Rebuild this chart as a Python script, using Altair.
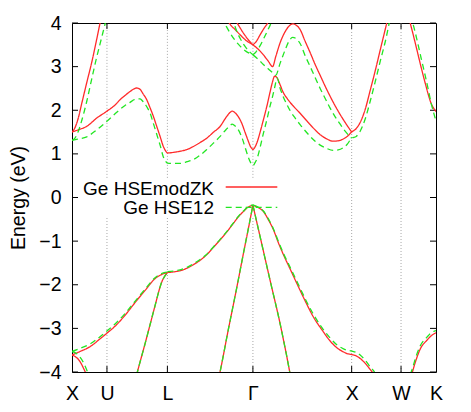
import altair as alt
import pandas as pd

# ---------------- data ----------------
SERIES = ["Ge HSEmodZK", "Ge HSE12"]
KPOINT_LABELS = ["X", "U", "L", "Γ", "X", "W", "K"]
KPOINT_POS = [0.0, 0.354, 0.966, 1.832, 2.832, 3.332, 3.686]
Y_TICKS = [-4, -3, -2, -1, 0, 1, 2, 3, 4]

# valence: top band X-U-L
vb_xul_k = [0, 0.081, 0.182, 0.284, 0.354, 0.436, 0.537, 0.638, 0.740, 0.841, 0.912, 0.966]
vb_xul_red = [-3.61, -3.53, -3.42, -3.24, -3.11, -2.95, -2.70, -2.41, -2.13, -1.86, -1.76, -1.72]
vb_xul_green = [-3.53, -3.46, -3.36, -3.19, -3.06, -2.90, -2.66, -2.38, -2.10, -1.84, -1.74, -1.71]

# valence: second band leaving X downward
vb_x2_k = [0, 0.041, 0.081, 0.122, 0.162]
vb_x2_red = [-3.61, -3.66, -3.76, -3.94, -4.14]
vb_x2_green = [-3.53, -3.57, -3.66, -3.81, -4.03]

# valence: steep band into L
vb_ul_k = [0.628, 0.662, 0.740, 0.790, 0.841, 0.892, 0.912, 0.932, 0.966]
vb_ul_red = [-4.3, -4.0, -3.35, -2.92, -2.48, -2.05, -1.92, -1.83, -1.72]
vb_ul_green = [-4.3, -4.0, -3.35, -2.92, -2.48, -2.05, -1.92, -1.83, -1.72]

# valence: top band L-Gamma
vb_lg_k = [0.966, 1.044, 1.094, 1.165, 1.229, 1.297, 1.365, 1.429, 1.500, 1.571, 1.635, 1.682, 1.736, 1.784, 1.832]
vb_lg_red = [-1.72, -1.70, -1.68, -1.62, -1.54, -1.44, -1.31, -1.15, -0.97, -0.78, -0.59, -0.45, -0.32, -0.22, -0.18]
vb_lg_green = [-1.70, -1.68, -1.66, -1.60, -1.52, -1.42, -1.30, -1.14, -0.96, -0.77, -0.58, -0.44, -0.31, -0.21, -0.17]

# valence: light hole, L side
vb_lh1_k = [1.480, 1.500, 1.581, 1.669, 1.743, 1.794, 1.832]
vb_lh1_red = [-4.2, -3.99, -3.05, -2.06, -1.20, -0.62, -0.18]
vb_lh1_green = [-4.2, -3.99, -3.05, -2.06, -1.20, -0.62, -0.17]

# valence: light hole, X side
vb_lh2_k = [1.832, 1.905, 2.006, 2.108, 2.204, 2.229]
vb_lh2_red = [-0.18, -0.90, -1.90, -2.90, -3.99, -4.3]
vb_lh2_green = [-0.17, -0.90, -1.90, -2.90, -3.99, -4.3]

# valence: heavy hole Gamma-X
vb_hh_k = [1.832, 1.885, 1.938, 1.986, 2.040, 2.087, 2.141, 2.209, 2.277, 2.361, 2.445, 2.533,
           2.614, 2.685, 2.749, 2.787, 2.832, 2.878, 2.918, 2.969, 3.019, 3.053, 3.080]
vb_hh_red = [-0.18, -0.23, -0.32, -0.50, -0.74, -1.02, -1.31, -1.64, -1.97, -2.37, -2.74, -3.04,
             -3.29, -3.45, -3.54, -3.58, -3.60, -3.63, -3.69, -3.80, -3.94, -4.04, -4.12]
vb_hh_green = [-0.17, -0.22, -0.31, -0.48, -0.72, -0.99, -1.28, -1.60, -1.92, -2.32, -2.68, -2.99,
               -3.22, -3.38, -3.47, -3.50, -3.52, -3.55, -3.61, -3.73, -3.88, -3.97, -4.06]

# valence: near K
vb_k_k = [3.425, 3.443, 3.476, 3.527, 3.595, 3.638, 3.686]
vb_k_red = [-4.15, -4.03, -3.78, -3.47, -3.27, -3.17, -3.10]
vb_k_green = [-4.06, -3.95, -3.70, -3.40, -3.20, -3.10, -3.05]

# conduction: lowest band, X through L, Gamma, X and up toward W
cb1_k = [0, 0.061, 0.149, 0.250, 0.354, 0.436, 0.486, 0.537, 0.588, 0.628, 0.656, 0.689, 0.719,
         0.757, 0.790, 0.821, 0.858, 0.892, 0.925, 0.948, 0.966,
         1.044, 1.094, 1.165, 1.229, 1.297, 1.365, 1.429, 1.500, 1.561, 1.601, 1.621, 1.652,
         1.685, 1.723, 1.753, 1.784, 1.809, 1.819, 1.832,
         1.854, 1.878, 1.905, 1.938, 1.973, 2.006, 2.027, 2.052, 2.077, 2.108, 2.141, 2.179,
         2.209, 2.260, 2.310, 2.361, 2.412, 2.462, 2.513, 2.574, 2.645, 2.695, 2.746, 2.787, 2.832,
         2.878, 2.918, 2.969, 3.019, 3.070, 3.121, 3.187, 3.212, 3.242]
cb1_red = [1.50, 1.55, 1.63, 1.82, 1.98, 2.12, 2.24, 2.34, 2.43, 2.49, 2.51, 2.48, 2.38,
           2.24, 2.06, 1.88, 1.63, 1.40, 1.17, 1.07, 1.02,
           1.04, 1.06, 1.10, 1.17, 1.26, 1.36, 1.49, 1.63, 1.84, 1.95, 1.98, 1.94,
           1.85, 1.68, 1.49, 1.30, 1.16, 1.13, 1.10,
           1.16, 1.29, 1.50, 1.78, 2.09, 2.42, 2.62, 2.78, 2.74, 2.58, 2.40, 2.27,
           2.18, 2.05, 1.93, 1.80, 1.67, 1.55, 1.44, 1.35, 1.29, 1.30, 1.34, 1.40, 1.50,
           1.58, 1.72, 2.02, 2.45, 2.90, 3.38, 4.0, 4.25, 4.55]
cb1_green = [1.31, 1.34, 1.39, 1.55, 1.75, 1.92, 2.02, 2.11, 2.18, 2.24, 2.26, 2.26, 2.20,
             2.08, 1.94, 1.72, 1.45, 1.20, 0.93, 0.83, 0.79,
             0.78, 0.78, 0.82, 0.87, 0.97, 1.10, 1.24, 1.40, 1.56, 1.65, 1.68, 1.64,
             1.55, 1.36, 1.15, 0.93, 0.80, 0.77, 0.73,
             0.80, 0.92, 1.15, 1.47, 1.78, 2.10, 2.28, 2.52, 2.74, 2.50, 2.30, 2.12,
             1.99, 1.82, 1.67, 1.53, 1.40, 1.29, 1.20, 1.13, 1.08, 1.09, 1.14, 1.22, 1.36,
             1.40, 1.52, 1.80, 2.20, 2.65, 3.12, 3.72, 4.0, 4.3]

# conduction: second band rising from X
cb2_k = [0, 0.030, 0.061, 0.098, 0.149, 0.200, 0.243, 0.284, 0.324, 0.354]
cb2_red = [1.50, 1.60, 1.80, 2.15, 2.63, 3.10, 3.55, 4.0, 4.45, 4.8]
cb2_green = [1.31, 1.36, 1.50, 1.76, 2.20, 2.72, 3.15, 3.52, 3.88, 4.15]

# conduction: band from Gamma down to the crossing, over the hump, into X
cbb_k = [1.832, 1.885, 1.938, 1.986, 2.032, 2.062, 2.108, 2.158, 2.194, 2.234, 2.270, 2.310,
         2.361, 2.412, 2.462, 2.513, 2.564, 2.614, 2.665, 2.716, 2.766, 2.832]
cbb_red = [3.50, 3.40, 3.27, 3.13, 3.00, 3.22, 3.55, 3.80, 3.92, 3.98, 3.95, 3.85,
           3.58, 3.32, 3.05, 2.80, 2.55, 2.32, 2.10, 1.90, 1.72, 1.50]
cbb_green = [3.27, 3.17, 3.05, 2.95, 2.86, 2.80, 3.08, 3.38, 3.57, 3.67, 3.64, 3.53,
             3.25, 3.00, 2.75, 2.50, 2.27, 2.05, 1.85, 1.68, 1.52, 1.36]

# conduction: band rising from Gamma toward X
cbu_k = [1.832, 1.864, 1.905, 1.945, 1.981, 2.016, 2.047]
cbu_red = [3.50, 3.57, 3.73, 3.88, 4.0, 4.2, 4.4]
cbu_green = [3.27, 3.34, 3.48, 3.66, 3.83, 4.0, 4.2]

# conduction: two bands falling into Gamma from the L side
cba_k = [1.561, 1.601, 1.652, 1.702, 1.763, 1.832]
cba_red = [4.15, 3.97, 3.85, 3.73, 3.60, 3.50]
cba_green = [3.93, 3.77, 3.60, 3.47, 3.35, 3.27]

cbc_k = [1.621, 1.662, 1.702, 1.763, 1.832]
cbc_red = [4.3, 4.05, 3.89, 3.68, 3.50]
cbc_green = [4.15, 3.85, 3.65, 3.43, 3.27]

# conduction: W to K
cbk_k = [3.405, 3.425, 3.451, 3.476, 3.507, 3.537, 3.578, 3.613, 3.638, 3.664, 3.686]
cbk_red = [4.2, 4.0, 3.77, 3.54, 3.25, 2.97, 2.61, 2.32, 2.15, 2.04, 1.97]
cbk_green = [4.4, 4.2, 4.0, 3.78, 3.48, 3.18, 2.78, 2.42, 2.15, 1.93, 1.75]

BANDS = [
    ("vb_xul", vb_xul_k, vb_xul_red, vb_xul_green),
    ("vb_x2", vb_x2_k, vb_x2_red, vb_x2_green),
    ("vb_ul", vb_ul_k, vb_ul_red, vb_ul_green),
    ("vb_lg", vb_lg_k, vb_lg_red, vb_lg_green),
    ("vb_lh1", vb_lh1_k, vb_lh1_red, vb_lh1_green),
    ("vb_lh2", vb_lh2_k, vb_lh2_red, vb_lh2_green),
    ("vb_hh", vb_hh_k, vb_hh_red, vb_hh_green),
    ("vb_k", vb_k_k, vb_k_red, vb_k_green),
    ("cb1", cb1_k, cb1_red, cb1_green),
    ("cb2", cb2_k, cb2_red, cb2_green),
    ("cbb", cbb_k, cbb_red, cbb_green),
    ("cbu", cbu_k, cbu_red, cbu_green),
    ("cba", cba_k, cba_red, cba_green),
    ("cbc", cbc_k, cbc_red, cbc_green),
    ("cbk", cbk_k, cbk_red, cbk_green),
]

# gridline gaps behind the key
KEY_GAP = [-0.44, 0.45]

# ---------------- styles ----------------
RED = "#ff2a2a"
GREEN = "#22e622"
FONT = "Liberation Sans"
FS = 19.5
KEY_FS = 19
W, H = 364, 349

rows_red, rows_green = [], []
for name, ks, er, eg in BANDS:
    for kk, e in zip(ks, er):
        rows_red.append({"k": kk, "E": e, "series": SERIES[0], "band": name})
    for kk, e in zip(ks, eg):
        rows_green.append({"k": kk, "E": e, "series": SERIES[1], "band": name})
df_red = pd.DataFrame(rows_red)
df_green = pd.DataFrame(rows_green)

grid_rows = []
for lab, pos in zip(KPOINT_LABELS[1:-1], KPOINT_POS[1:-1]):
    if pos < 2.0:
        grid_rows.append({"k": pos, "E": -4, "E2": KEY_GAP[0]})
        grid_rows.append({"k": pos, "E": KEY_GAP[1], "E2": 4})
    else:
        grid_rows.append({"k": pos, "E": -4, "E2": 4})
df_grid = pd.DataFrame(grid_rows)
df_yt = pd.DataFrame({"E": Y_TICKS})
df_xt = pd.DataFrame({"k": KPOINT_POS[1:-1]})

labels_js = "[" + ",".join("'%s'" % l for l in KPOINT_LABELS) + "]"
vals_js = "[" + ",".join(repr(v) for v in KPOINT_POS) + "]"

xscale = alt.Scale(domain=[0, KPOINT_POS[-1]], nice=False, zero=False)
yscale = alt.Scale(domain=[-4, 4], nice=False, zero=False)

X_ENC = alt.X("k:Q", scale=xscale,
              axis=alt.Axis(values=KPOINT_POS, labelExpr=f"{labels_js}[indexof({vals_js}, datum.value)]",
                            title=None, grid=False, domain=False, tickSize=0, labelPadding=12,
                            labelFlush=False, labelOverlap=False,
                            labelFont=FONT, labelFontSize=FS, labelColor="black"))
Y_ENC = alt.Y("E:Q", scale=yscale,
              axis=alt.Axis(values=Y_TICKS, title="Energy (eV)", grid=False, domain=False,
                            tickSize=0, labelPadding=11, titlePadding=10, format="d",
                            labelFont=FONT, labelFontSize=FS, labelColor="black",
                            titleFont=FONT, titleFontSize=FS, titleFontWeight="normal",
                            titleColor="black"))

color = alt.Color("series:N", scale=alt.Scale(domain=SERIES, range=[RED, GREEN]), legend=None)
dash = alt.StrokeDash("series:N", scale=alt.Scale(domain=SERIES, range=[[1, 0], [6, 4]]), legend=None)

grid = alt.Chart(df_grid).mark_rule(color="#a8a8a8", strokeDash=[1, 2], strokeWidth=1).encode(
    x=X_ENC, y=Y_ENC, y2="E2:Q")

yt_left = alt.Chart(df_yt).mark_rule(color="black").encode(y=Y_ENC, x=alt.value(0), x2=alt.value(6))
yt_right = alt.Chart(df_yt).mark_rule(color="black").encode(y=Y_ENC, x=alt.value(W - 6), x2=alt.value(W))
xt_bot = alt.Chart(df_xt).mark_rule(color="black").encode(x=X_ENC, y=alt.value(H - 6), y2=alt.value(H))
xt_top = alt.Chart(df_xt).mark_rule(color="black").encode(x=X_ENC, y=alt.value(0), y2=alt.value(6))

lines_red = alt.Chart(df_red).mark_line(interpolate="monotone", clip=True, strokeWidth=1.3).encode(
    x=X_ENC, y=Y_ENC, color=color, strokeDash=dash, detail="band:N", order="k:Q")
lines_green = alt.Chart(df_green).mark_line(interpolate="monotone", clip=True, strokeWidth=1.3).encode(
    x=X_ENC, y=Y_ENC, color=color, strokeDash=dash, detail="band:N", order="k:Q")

df_key = pd.DataFrame({"series": SERIES})
key_layers = []
for i, (s, col, sd) in enumerate(zip(SERIES, [RED, GREEN], [[1, 0], [6, 4]])):
    base = alt.Chart(df_key).transform_filter(alt.datum.series == s)
    key_layers.append(base.mark_text(align="right", baseline="alphabetic", font=FONT, fontSize=KEY_FS,
                                     color="black").encode(
        text="series:N", x=alt.value(142), y=alt.value(171.5 + 19.8 * i)))
    key_layers.append(base.mark_rule(color=col, strokeDash=sd, strokeWidth=1.3).encode(
        x=alt.value(153.7), x2=alt.value(205.3), y=alt.value(164 + 20.4 * i)))

chart = alt.layer(grid, yt_left, yt_right, xt_bot, xt_top, lines_red, lines_green, *key_layers).properties(
    width=W, height=H,
    padding={"left": 64, "top": 15, "right": 27, "bottom": 30},
    autosize=alt.AutoSizeParams(type="none"),
    background="white",
).configure_view(stroke="black", strokeWidth=1)

chart.save("out.html", embed_options={"renderer": "svg", "actions": False})
